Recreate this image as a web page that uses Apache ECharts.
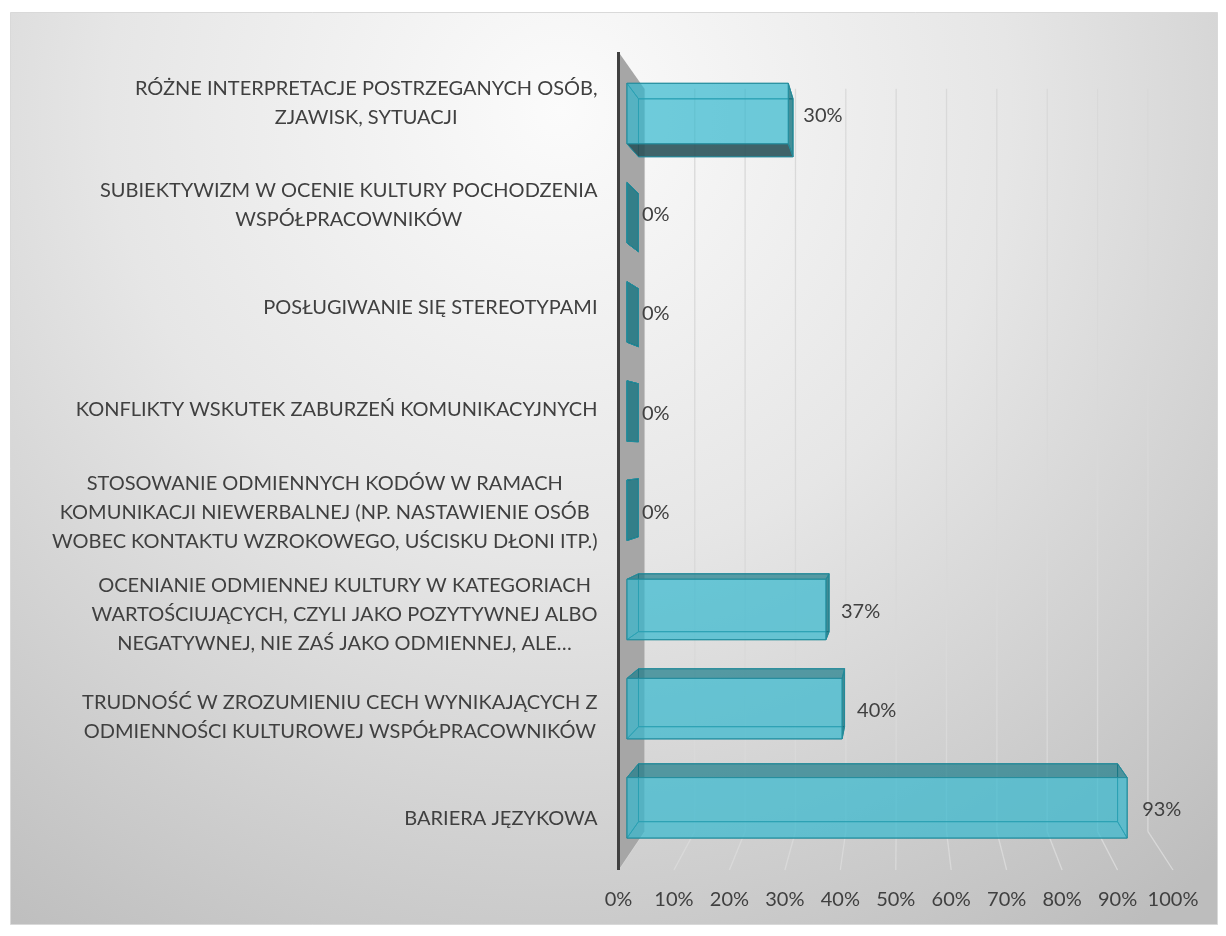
<!DOCTYPE html>
<html>
<head>
<meta charset="utf-8">
<script src="https://cdn.jsdelivr.net/npm/echarts@6/dist/echarts.min.js"></script>
<style>
  html, body { margin: 0; padding: 0; background: #ffffff; }
  #chart { width: 1226px; height: 936px; }
</style>
</head>
<body>
<div id="chart"></div>
<script>
// Problems named by respondents (category labels, top to bottom)
const categories = [
  'RÓŻNE INTERPRETACJE POSTRZEGANYCH OSÓB,\nZJAWISK, SYTUACJI',
  'SUBIEKTYWIZM W OCENIE KULTURY POCHODZENIA\nWSPÓŁPRACOWNIKÓW',
  'POSŁUGIWANIE SIĘ STEREOTYPAMI',
  'KONFLIKTY WSKUTEK ZABURZEŃ KOMUNIKACYJNYCH',
  'STOSOWANIE ODMIENNYCH KODÓW W RAMACH\nKOMUNIKACJI NIEWERBALNEJ (NP. NASTAWIENIE OSÓB\nWOBEC KONTAKTU WZROKOWEGO, UŚCISKU DŁONI ITP.)',
  'OCENIANIE ODMIENNEJ KULTURY W KATEGORIACH\nWARTOŚCIUJĄCYCH, CZYLI JAKO POZYTYWNEJ ALBO\nNEGATYWNEJ, NIE ZAŚ JAKO ODMIENNEJ, ALE…',
  'TRUDNOŚĆ W ZROZUMIENIU CECH WYNIKAJĄCYCH Z\nODMIENNOŚCI KULTUROWEJ WSPÓŁPRACOWNIKÓW',
  'BARIERA JĘZYKOWA'
];
// Share of answers, in percent
const shares = [30, 0, 0, 0, 0, 37, 40, 93];
// Value-axis ticks, in percent
const axisTicks = [0, 10, 20, 30, 40, 50, 60, 70, 80, 90, 100];

const FONT = 'Lato';
const TEXT_COLOR = '#404040';

// Pseudo-3D perspective: the grid is the front plane of the floor;
// deeper planes shrink toward a vanishing point inside the plot.
const VP_X = 0.508, VP_Y = 0.487;     // vanishing point, as fraction of the grid
const S_WALL = 0.908;                 // back wall
const S_BAR_BACK = 0.929;             // rear face of the bars
const S_BAR_FRONT = 0.97;             // front face of the bars
const BAR_FRAC = 0.61;                // bar thickness as a share of the band

function projector(cs) {
  const vx = cs.x + VP_X * cs.width, vy = cs.y + VP_Y * cs.height;
  return (p, s) => [vx + s * (p[0] - vx), vy + s * (p[1] - vy)];
}

// Back-wall gridlines and floor lines for each tick
function renderGrid(params, api) {
  const cs = params.coordSys;
  const P = projector(cs);
  const x = api.coord([api.value(0), 0])[0];
  const top = cs.y, bottom = cs.y + cs.height;
  const wTop = P([x, top], S_WALL), wBot = P([x, bottom], S_WALL);
  const style = { stroke: '#d9d9d9', lineWidth: 1.3 };
  return {
    type: 'group',
    children: [
      { type: 'line', shape: { x1: wTop[0], y1: wTop[1], x2: wBot[0], y2: wBot[1] }, style },
      { type: 'line', shape: { x1: wBot[0], y1: wBot[1], x2: x, y2: bottom }, style }
    ]
  };
}

// Left side wall with its dark front edge
function renderSideWall(params, api) {
  const cs = params.coordSys;
  const P = projector(cs);
  const x = api.coord([0, 0])[0];
  const top = cs.y, bottom = cs.y + cs.height;
  const bt = P([x, top], S_WALL), bb = P([x, bottom], S_WALL);
  return {
    type: 'group',
    children: [
      { type: 'polygon', shape: { points: [[x, top], bt, bb, [x, bottom]] },
        style: { fill: '#a6a6a6' } },
      { type: 'line', shape: { x1: x, y1: top, x2: x, y2: bottom },
        style: { stroke: '#404040', lineWidth: 3 } }
    ]
  };
}

const BASE_FILL = 'rgba(52,185,206,0.45)';
const EDGE = 'rgba(35,140,155,0.9)';

// One translucent box per category, with its value label
function renderBar(params, api) {
  const cs = params.coordSys;
  const P = projector(cs);
  const v = api.value(0), ci = api.value(1);
  const a = api.coord([0, ci]), b = api.coord([v, ci]);
  const hh = api.size([0, 1])[1] * BAR_FRAC / 2;
  const q = [[a[0], a[1] - hh], [b[0], a[1] - hh], [b[0], a[1] + hh], [a[0], a[1] + hh]];
  const f = q.map(p => P(p, S_BAR_FRONT));
  const k = q.map(p => P(p, S_BAR_BACK));

  const sides = [
    { pts: [f[0], f[1], k[1], k[0]], vis: k[0][1] < f[0][1], fill: 'rgba(10,90,100,0.45)' },   // top
    { pts: [f[3], f[2], k[2], k[3]], vis: k[3][1] > f[3][1], fill: 'rgba(40,70,75,0.8)' },     // bottom
    { pts: [f[1], k[1], k[2], f[2]], vis: k[1][0] > f[1][0], fill: 'rgba(10,95,105,0.6)' },    // right
    { pts: [f[0], k[0], k[3], f[3]], vis: k[0][0] < f[0][0], fill: 'rgba(10,95,105,0.6)' }     // left
  ];
  const poly = (pts, fill) => ({
    type: 'polygon', shape: { points: pts },
    style: { fill: fill, stroke: EDGE, lineWidth: 1, lineJoin: 'round' }
  });
  const children = [poly(k, BASE_FILL)];
  sides.filter(s => !s.vis).forEach(s => children.push(poly(s.pts, BASE_FILL)));
  sides.filter(s => s.vis).forEach(s => children.push(poly(s.pts, s.fill)));
  children.push(poly(f, BASE_FILL));

  const lp = P([b[0], a[1]], S_BAR_FRONT);
  children.push({
    type: 'text',
    x: lp[0] + 15, y: lp[1] + 2,
    style: { text: v + '%', fill: TEXT_COLOR, fontSize: 20, fontFamily: FONT,
             align: 'left', verticalAlign: 'middle' }
  });
  return { type: 'group', children };
}

const chart = echarts.init(document.getElementById('chart'), null, { renderer: 'canvas' });
chart.setOption({
  animation: false,
  backgroundColor: '#ffffff',
  textStyle: { fontFamily: FONT },
  graphic: [{
    type: 'rect', z: -100, silent: true,
    shape: { x: 10.5, y: 12.5, width: 1207, height: 912 },
    style: {
      fill: { type: 'radial', x: 560, y: 110, r: 1000, global: true,
              colorStops: [{ offset: 0, color: '#fbfbfb' }, { offset: 0.45, color: '#e6e6e6' }, { offset: 1, color: '#bdbdbd' }] },
      stroke: '#d9d9d9', lineWidth: 1
    }
  }],
  grid: { left: 618.5, right: 53, top: 52, bottom: 66 },
  xAxis: {
    type: 'value', min: 0, max: 100, interval: 10,
    axisLine: { show: false }, axisTick: { show: false }, splitLine: { show: false },
    axisLabel: { formatter: '{value}%', color: TEXT_COLOR, fontSize: 20, fontFamily: FONT, margin: 20 }
  },
  yAxis: {
    type: 'category', data: categories, inverse: true,
    axisLine: { show: false }, axisTick: { show: false }, splitLine: { show: false },
    axisLabel: {
      interval: 0, margin: 21, color: TEXT_COLOR,
      formatter: val => val.split('\n').map(l => '{c|' + l + '}').join('\n'),
      rich: { c: { align: 'center', fontSize: 20, lineHeight: 29, color: TEXT_COLOR, fontFamily: FONT } }
    }
  },
  series: [
    { type: 'custom', name: 'grid', z: 1, silent: true,
      data: axisTicks.map(t => [t, 0]), encode: { x: 0, y: 1 }, renderItem: renderGrid },
    { type: 'custom', name: 'wall', z: 2, silent: true,
      data: [[0, 0]], encode: { x: 0, y: 1 }, renderItem: renderSideWall },
    { type: 'custom', name: 'share', z: 3,
      data: shares.map((v, i) => [v, i]), encode: { x: 0, y: 1 }, renderItem: renderBar }
  ]
});
</script>
</body>
</html>
